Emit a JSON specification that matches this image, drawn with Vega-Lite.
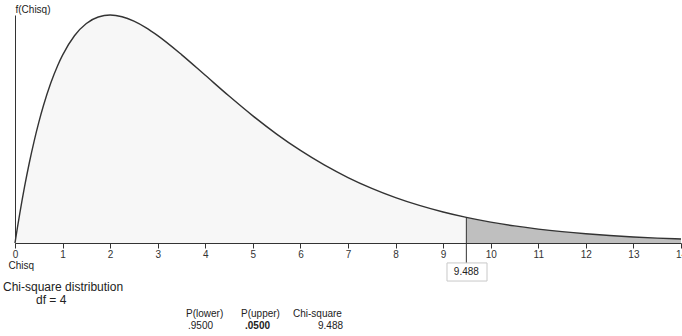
{
  "$schema": "https://vega.github.io/schema/vega-lite/v6.json",
  "width": 666,
  "height": 228,
  "autosize": {"type": "none"},
  "padding": {"left": 15, "top": 15, "right": 1, "bottom": 93},
  "config": {
    "view": {"stroke": null},
    "font": "Liberation Sans",
    "text": {"font": "Liberation Sans", "fontSize": 10, "color": "#222"}
  },
  "datasets": {
    "curve": [
      {"chisq": 0, "density": 0},
      {"chisq": 0.025, "density": 0.006172},
      {"chisq": 0.05, "density": 0.012191},
      {"chisq": 0.1, "density": 0.023781},
      {"chisq": 0.15, "density": 0.03479},
      {"chisq": 0.2, "density": 0.045242},
      {"chisq": 0.3, "density": 0.064553},
      {"chisq": 0.4, "density": 0.081873},
      {"chisq": 0.5, "density": 0.09735},
      {"chisq": 0.6, "density": 0.111123},
      {"chisq": 0.75, "density": 0.128867},
      {"chisq": 0.9, "density": 0.143466},
      {"chisq": 1, "density": 0.151633},
      {"chisq": 1.25, "density": 0.167269},
      {"chisq": 1.5, "density": 0.177138},
      {"chisq": 1.75, "density": 0.182377},
      {"chisq": 2, "density": 0.18394},
      {"chisq": 2.25, "density": 0.182617},
      {"chisq": 2.5, "density": 0.179066},
      {"chisq": 2.75, "density": 0.173828},
      {"chisq": 3, "density": 0.167348},
      {"chisq": 3.5, "density": 0.152052},
      {"chisq": 4, "density": 0.135335},
      {"chisq": 4.5, "density": 0.118574},
      {"chisq": 5, "density": 0.102606},
      {"chisq": 5.5, "density": 0.087901},
      {"chisq": 6, "density": 0.074681},
      {"chisq": 6.5, "density": 0.063008},
      {"chisq": 7, "density": 0.052845},
      {"chisq": 7.5, "density": 0.044096},
      {"chisq": 8, "density": 0.036631},
      {"chisq": 8.5, "density": 0.030311},
      {"chisq": 9, "density": 0.024995},
      {"chisq": 9.488, "density": 0.020645},
      {"chisq": 10, "density": 0.016845},
      {"chisq": 10.5, "density": 0.013775},
      {"chisq": 11, "density": 0.011239},
      {"chisq": 11.5, "density": 0.009151},
      {"chisq": 12, "density": 0.007436},
      {"chisq": 12.5, "density": 0.006033},
      {"chisq": 13, "density": 0.004886},
      {"chisq": 13.5, "density": 0.003952},
      {"chisq": 14, "density": 0.003192}
    ]
  },
  "layer": [
    {
      "data": {"name": "curve"},
      "transform": [{"filter": "datum.chisq <= 9.488"}],
      "mark": {"type": "area", "color": "#f7f7f7", "interpolate": "monotone"},
      "encoding": {
        "x": {
          "field": "chisq", "type": "quantitative",
          "scale": {"domain": [0, 14], "nice": false},
          "axis": {
            "values": [0,1,2,3,4,5,6,7,8,9,10,11,12,13,14],
            "format": "d",
            "grid": false,
            "labelFontSize": 10,
            "labelColor": "#333",
            "labelFlush": false,
            "labelOverlap": false,
            "labelPadding": 1,
            "tickSize": 5,
            "tickColor": "#333",
            "domainColor": "#333",
            "title": "Chisq",
            "titleFontSize": 10,
            "titleFontWeight": "normal",
            "titleColor": "#222",
            "titleAlign": "left",
            "titleBaseline": "middle",
            "titleX": -7,
            "titleY": 22
          }
        },
        "y": {
          "field": "density", "type": "quantitative",
          "scale": {"domain": [0, 0.184], "nice": false},
          "axis": {
            "labels": false,
            "ticks": false,
            "grid": false,
            "domainColor": "#333",
            "title": "f(Chisq)",
            "titleFontSize": 10,
            "titleFontWeight": "normal",
            "titleColor": "#222",
            "titleAngle": 0,
            "titleAlign": "left",
            "titleBaseline": "middle",
            "titleX": 0,
            "titleY": -6
          }
        }
      }
    },
    {
      "data": {"name": "curve"},
      "transform": [{"filter": "datum.chisq >= 9.488"}],
      "mark": {"type": "area", "color": "#bfbfbf", "interpolate": "monotone"},
      "encoding": {
        "x": {"field": "chisq", "type": "quantitative"},
        "y": {"field": "density", "type": "quantitative"}
      }
    },
    {
      "data": {"name": "curve"},
      "mark": {"type": "line", "color": "#333", "strokeWidth": 1.4, "interpolate": "monotone"},
      "encoding": {
        "x": {"field": "chisq", "type": "quantitative"},
        "y": {"field": "density", "type": "quantitative"}
      }
    },
    {
      "data": {"values": [{}]},
      "mark": {"type": "rule", "color": "#333", "strokeWidth": 1, "clip": false},
      "encoding": {
        "x": {"datum": 9.488, "type": "quantitative"},
        "y": {"datum": 0.020645, "type": "quantitative"},
        "y2": {"datum": -0.0161}
      }
    },
    {
      "data": {"values": [{}]},
      "mark": {"type": "rect", "fill": "white", "stroke": "#c8c8c8", "strokeWidth": 1, "clip": false},
      "encoding": {
        "x": {"datum": 9.081, "type": "quantitative"},
        "x2": {"datum": 9.922},
        "y": {"datum": -0.0161, "type": "quantitative"},
        "y2": {"datum": -0.0307}
      }
    },
    {
      "data": {"values": [{}]},
      "mark": {"type": "text", "align": "center", "baseline": "middle", "clip": false},
      "encoding": {
        "x": {"datum": 9.488, "type": "quantitative"},
        "y": {"datum": -0.0234, "type": "quantitative"},
        "text": {"value": "9.488"}
      }
    },
    {
      "data": {"values": [{}]},
      "mark": {"type": "text", "align": "left", "baseline": "middle", "fontSize": 12, "clip": false},
      "encoding": {
        "x": {"datum": -0.252, "type": "quantitative"},
        "y": {"datum": -0.0355, "type": "quantitative"},
        "text": {"value": "Chi-square distribution"}
      }
    },
    {
      "data": {"values": [{}]},
      "mark": {"type": "text", "align": "left", "baseline": "middle", "fontSize": 12, "clip": false},
      "encoding": {
        "x": {"datum": 0.441, "type": "quantitative"},
        "y": {"datum": -0.0460, "type": "quantitative"},
        "text": {"value": "df = 4"}
      }
    },
    {
      "data": {"values": [{}]},
      "mark": {"type": "text", "align": "left", "baseline": "middle", "clip": false},
      "encoding": {
        "x": {"datum": 3.595, "type": "quantitative"},
        "y": {"datum": -0.0573, "type": "quantitative"},
        "text": {"value": "P(lower)"}
      }
    },
    {
      "data": {"values": [{}]},
      "mark": {"type": "text", "align": "left", "baseline": "middle", "clip": false},
      "encoding": {
        "x": {"datum": 3.637, "type": "quantitative"},
        "y": {"datum": -0.0670, "type": "quantitative"},
        "text": {"value": ".9500"}
      }
    },
    {
      "data": {"values": [{}]},
      "mark": {"type": "text", "align": "left", "baseline": "middle", "clip": false},
      "encoding": {
        "x": {"datum": 4.751, "type": "quantitative"},
        "y": {"datum": -0.0573, "type": "quantitative"},
        "text": {"value": "P(upper)"}
      }
    },
    {
      "data": {"values": [{}]},
      "mark": {"type": "text", "align": "left", "baseline": "middle", "fontWeight": "bold", "clip": false},
      "encoding": {
        "x": {"datum": 4.835, "type": "quantitative"},
        "y": {"datum": -0.0670, "type": "quantitative"},
        "text": {"value": ".0500"}
      }
    },
    {
      "data": {"values": [{}]},
      "mark": {"type": "text", "align": "left", "baseline": "middle", "clip": false},
      "encoding": {
        "x": {"datum": 5.844, "type": "quantitative"},
        "y": {"datum": -0.0573, "type": "quantitative"},
        "text": {"value": "Chi-square"}
      }
    },
    {
      "data": {"values": [{}]},
      "mark": {"type": "text", "align": "right", "baseline": "middle", "clip": false},
      "encoding": {
        "x": {"datum": 6.895, "type": "quantitative"},
        "y": {"datum": -0.0670, "type": "quantitative"},
        "text": {"value": "9.488"}
      }
    }
  ]
}
